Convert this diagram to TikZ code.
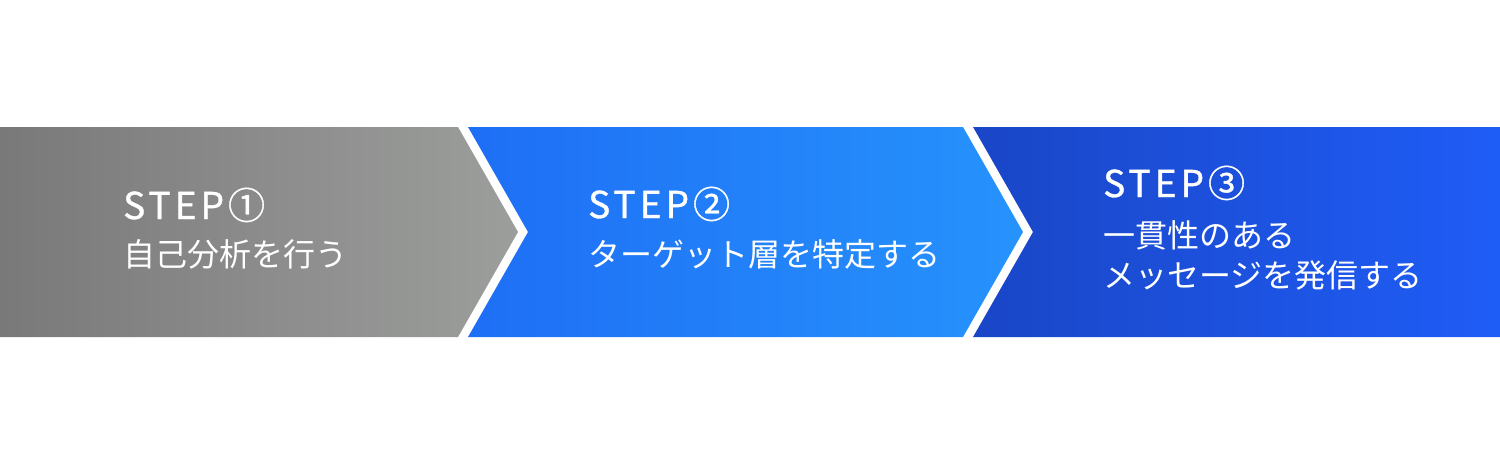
\documentclass[tikz,border=0pt]{standalone}
\usepackage{fontspec}
\newfontfamily\jpfont{Noto Sans CJK JP}
\newfontfamily\stepfont[LetterSpace=11, FakeBold=1]{Noto Sans CJK JP}
\usetikzlibrary{calc}

\definecolor{grayL}{HTML}{797979}
\definecolor{grayR}{HTML}{9C9E9C}
\definecolor{blueL}{HTML}{1E6EF5}
\definecolor{blueR}{HTML}{2693FC}
\definecolor{navyL}{HTML}{1A46C6}
\definecolor{navyR}{HTML}{1F5DF7}

\begin{document}
\begin{tikzpicture}[x=1pt, y=-1pt,
  steptitle/.style={anchor=base west, inner sep=0, text=white,
    font=\stepfont\fontsize{37}{40}\selectfont},
  steptext/.style={anchor=base west, inner sep=0, text=white, align=left,
    font=\jpfont\fontsize{32}{40}\selectfont}]
\useasboundingbox (0,0) rectangle (1500,467);
% chevrons
\shade[left color=grayL, right color=grayR]
  (0,127) -- (458,127) -- (518,232) -- (458,337) -- (0,337) -- cycle;
\shade[left color=blueL, right color=blueR]
  (468,127) -- (963,127) -- (1023,232) -- (963,337) -- (468,337) -- (528,232) -- cycle;
\shade[left color=navyL, right color=navyR]
  (973,127) -- (1500,127) -- (1500,337) -- (973,337) -- (1033,232) -- cycle;
% labels
\node[steptitle] at (123,219) (S1) {STEP①};
\node[steptext]  at (123,266) (T1) {自己分析を行う};
\node[steptitle] at (588,218) (S2) {STEP②};
\node[steptext]  at (588,266) (T2) {ターゲット層を特定する};
\node[steptitle] at (1103,197) (S3) {STEP③};
\node[steptext]  at (1103,247) (T3) {一貫性のある};
\node[steptext]  at (1103,287) (T4) {メッセージを発信する};
\end{tikzpicture}
\end{document}
